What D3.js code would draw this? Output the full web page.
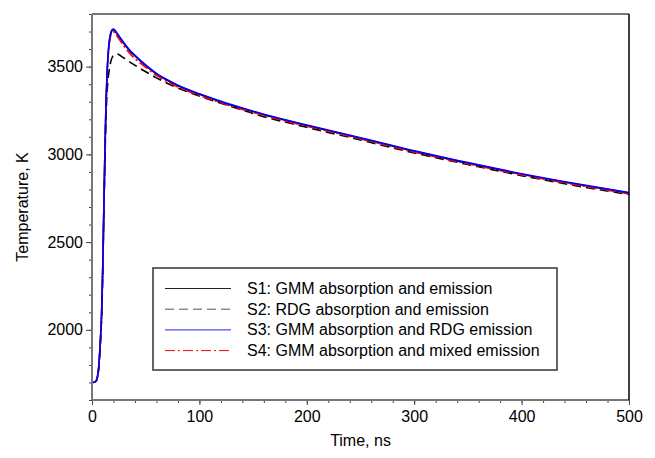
<!DOCTYPE html>
<html>
<head>
<meta charset="utf-8">
<script src="https://cdn.jsdelivr.net/npm/d3@7"></script>
<style>
  body { margin: 0; background: #fff; }
  text { font-family: "Liberation Sans", Arial, sans-serif; }
</style>
</head>
<body>
<div id="chart"></div>
<script>
// time in ns
const time = [0, 2, 4, 5, 6, 7, 8, 9, 10, 11, 12, 13, 14, 15, 16, 17, 18, 19, 20, 21, 22, 24, 26, 28, 30,
  35, 40, 45, 50, 60, 70, 80, 90, 100, 120, 140, 160, 180, 200, 250, 300, 350, 400, 450, 500];

const s1 = [1700, 1701, 1710, 1730, 1770, 1850, 1960, 2100, 2350, 2680, 3000, 3275, 3455, 3565, 3635, 3676, 3698, 3708, 3710, 3706, 3698,
  3681, 3664, 3646, 3629, 3591, 3561, 3532, 3506, 3459, 3422, 3391, 3365, 3342, 3299, 3261, 3226, 3194, 3164, 3092, 3017, 2950, 2887, 2831, 2780];
const s2 = [1700, 1701, 1709, 1728, 1765, 1840, 1945, 2080, 2320, 2650, 2950, 3200, 3350, 3430, 3480, 3515, 3540, 3555, 3565, 3570, 3572,
  3572, 3565, 3556, 3548, 3527, 3508, 3489, 3471, 3436, 3405, 3378, 3354, 3332, 3291, 3253, 3214, 3184, 3154, 3082, 3008, 2942, 2879, 2822, 2771];
const s3 = [1700, 1701, 1710, 1730, 1770, 1850, 1960, 2100, 2350, 2680, 3000, 3280, 3460, 3570, 3640, 3680, 3702, 3712, 3714, 3710, 3702,
  3685, 3668, 3650, 3633, 3595, 3565, 3536, 3510, 3462, 3425, 3394, 3368, 3345, 3302, 3264, 3229, 3197, 3167, 3095, 3020, 2953, 2890, 2834, 2782];
const s4 = [1700, 1701, 1710, 1730, 1770, 1850, 1960, 2100, 2350, 2680, 3000, 3270, 3445, 3555, 3625, 3665, 3688, 3696, 3698, 3694, 3686,
  3668, 3650, 3632, 3615, 3576, 3546, 3520, 3496, 3450, 3414, 3384, 3358, 3336, 3294, 3256, 3222, 3190, 3160, 3088, 3013, 2946, 2883, 2827, 2775];

const labels = [
  "S1: GMM absorption and emission",
  "S2: RDG absorption and emission",
  "S3: GMM absorption and RDG emission",
  "S4: GMM absorption and mixed emission"
];
const xTicks = [0, 100, 200, 300, 400, 500];
const yTicks = [2000, 2500, 3000, 3500];

const series = [
  { name: labels[0], values: s1, color: "#000", dash: null },
  { name: labels[1], values: s2, color: "#000", dash: "9,5" },
  { name: labels[3], values: s4, color: "#f00", dash: "10,3,2,3" },
  { name: labels[2], values: s3, color: "#00f", dash: null }
];
const legendOrder = [
  { name: labels[0], color: "#222", dash: null },
  { name: labels[1], color: "#555", dash: "9,5" },
  { name: labels[2], color: "#22f", dash: null },
  { name: labels[3], color: "#f00", dash: "10,3,2,3" }
];

const width = 655, height = 458;
const margin = { top: 14, right: 26, bottom: 58, left: 92 };

const svg = d3.select("#chart").append("svg")
  .attr("width", width)
  .attr("height", height);

const x = d3.scaleLinear().domain([0, 500]).range([margin.left, width - margin.right]);
const y = d3.scaleLinear().domain([1600, 3800]).range([height - margin.bottom, margin.top]);

// axes: minor ticks then major ticks with labels
const xAxis = svg.append("g")
  .attr("transform", `translate(0,${y(1600)})`)
  .call(d3.axisBottom(x).tickValues(d3.range(0, 501, 20)).tickSize(3).tickFormat(""));
xAxis.selectAll("line").attr("stroke", "#444");
xAxis.select(".domain").remove();
const xMaj = svg.append("g")
  .attr("transform", `translate(0,${y(1600)})`)
  .call(d3.axisBottom(x).tickValues(xTicks).tickSize(5).tickPadding(6).tickFormat(d3.format("d")));
xMaj.select(".domain").remove();
xMaj.selectAll("line").attr("stroke", "#444");
xMaj.selectAll("text").attr("font-size", 16).attr("fill", "#000");

const yAxis = svg.append("g")
  .attr("transform", `translate(${x(0)},0)`)
  .call(d3.axisLeft(y).tickValues(d3.range(1600, 3801, 100)).tickSize(3).tickFormat(""));
yAxis.select(".domain").remove();
yAxis.selectAll("line").attr("stroke", "#444");
const yMaj = svg.append("g")
  .attr("transform", `translate(${x(0)},0)`)
  .call(d3.axisLeft(y).tickValues(yTicks).tickSize(6).tickPadding(3).tickFormat(d3.format("d")));
yMaj.select(".domain").remove();
yMaj.selectAll("line").attr("stroke", "#444");
yMaj.selectAll("text").attr("font-size", 16).attr("fill", "#000");

// lines
const line = d3.line()
  .x((d, i) => x(time[i]))
  .y(d => y(d))
  .curve(d3.curveMonotoneX);

svg.append("g").selectAll("path")
  .data(series)
  .join("path")
  .attr("d", d => line(d.values))
  .attr("fill", "none")
  .attr("stroke", d => d.color)
  .attr("stroke-width", 1.6)
  .attr("stroke-dasharray", d => d.dash);

// frame
svg.append("line").attr("x1", x(0)).attr("x2", x(500)).attr("y1", y(3800)).attr("y2", y(3800))
  .attr("stroke", "#777").attr("stroke-width", 2);
svg.append("line").attr("x1", x(0)).attr("x2", x(500)).attr("y1", y(1600)).attr("y2", y(1600))
  .attr("stroke", "#777").attr("stroke-width", 2);
svg.append("line").attr("x1", x(0)).attr("x2", x(0)).attr("y1", y(3800)).attr("y2", y(1600))
  .attr("stroke", "#777").attr("stroke-width", 2);
svg.append("line").attr("x1", x(500)).attr("x2", x(500)).attr("y1", y(3800)).attr("y2", y(1600))
  .attr("stroke", "#000").attr("stroke-width", 1.5);

// axis labels
svg.append("text")
  .attr("x", (x(0) + x(500)) / 2)
  .attr("y", 446)
  .attr("text-anchor", "middle")
  .attr("font-size", 16)
  .text("Time, ns");

svg.append("text")
  .attr("transform", `translate(28,${(y(1600) + y(3800)) / 2}) rotate(-90)`)
  .attr("text-anchor", "middle")
  .attr("font-size", 16)
  .text("Temperature, K");

// legend
const lg = svg.append("g").attr("transform", "translate(153,268)");
lg.append("rect")
  .attr("width", 404).attr("height", 102)
  .attr("fill", "#fff").attr("stroke", "#333").attr("stroke-width", 1.5);
legendOrder.forEach((s, i) => {
  const yy = 20.5 + i * 20.7;
  lg.append("line")
    .attr("x1", 12).attr("x2", 78).attr("y1", yy).attr("y2", yy)
    .attr("stroke", s.color).attr("stroke-width", 1)
    .attr("stroke-dasharray", s.dash);
  lg.append("text")
    .attr("x", 94).attr("y", yy + 5.5)
    .attr("font-size", 16)
    .text(s.name);
});
</script>
</body>
</html>
